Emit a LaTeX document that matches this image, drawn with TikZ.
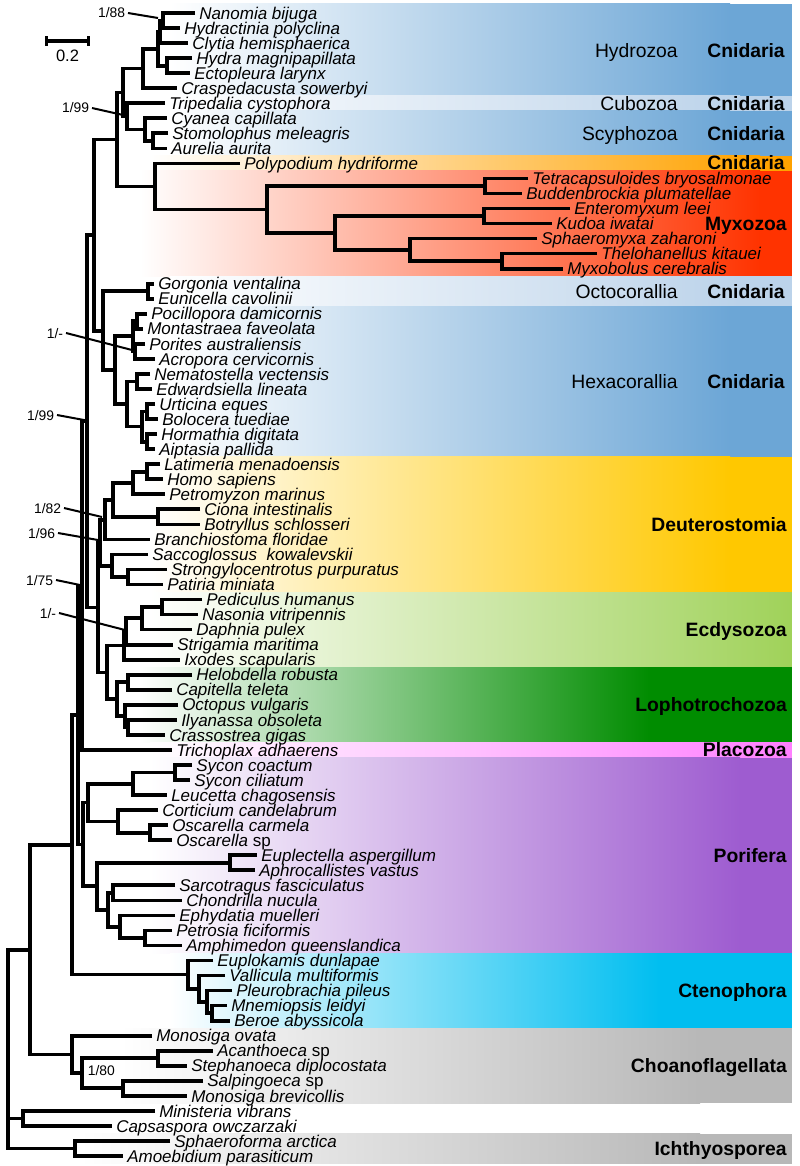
\documentclass[tikz,border=0pt]{standalone}
\usepackage{fontspec}
\setmainfont{Liberation Sans}
\usetikzlibrary{arrows.meta,calc}
\definecolor{HydroBlue}{HTML}{6CA6D6}
\definecolor{CuboBlue}{HTML}{BCD3EA}
\definecolor{PolypOrange}{HTML}{FFA200}
\definecolor{MyxoRed}{HTML}{FF3300}
\definecolor{DeutYellow}{HTML}{FFC800}
\definecolor{EcdyGreen}{HTML}{A0D25A}
\definecolor{LophoGreen}{HTML}{008C00}
\definecolor{PlacoPink}{HTML}{FF80FF}
\definecolor{PoriPurple}{HTML}{9E5CD0}
\definecolor{CtenoCyan}{HTML}{00BEF0}
\definecolor{ChoanoGrey}{HTML}{B8B8B8}
% clade: name, x of the node, upper child, lower child
\newcommand{\clade}[4]{%
    \coordinate (tmpmid) at ($(#3)!0.5!(#4)$);
    \coordinate (tmpx) at (#2,0);
    \coordinate (#1) at (tmpmid -| tmpx);
    \draw[branch] (#3) -| (#1) |- (#4);
}
% band: top, bottom, start of fade, end of fade, colour
\newcommand{\band}[5]{%
    \fill[left color=white, right color=#5] (#3,#1) rectangle (#4,#2);
    \fill[#5] ({#4-0.5},#1) rectangle (792,#2);
}

\begin{document}
\begin{tikzpicture}[
        x=0.75pt, y=-0.75pt,
        branch/.style={line width=2.8pt},
        pointer/.style={line width=1.5pt},
        scalebar/.style={line width=2.6pt, {Bar[width=7pt]}-{Bar[width=7pt]}},
        taxon/.style={
            anchor=west,
            inner xsep=3pt,
            inner ysep=0pt,
            text height=9.2pt,
            text depth=0pt,
            font=\fontsize{12.75}{14}\selectfont\itshape
        },
        support/.style={
            inner xsep=2pt,
            inner ysep=0pt,
            text height=7.5pt,
            text depth=0pt,
            font=\fontsize{10.4}{12}\selectfont
        },
        group/.style={
            anchor=east,
            inner sep=0pt,
            text height=10.4pt,
            text depth=0pt,
            font=\fontsize{14.5}{16}\selectfont\bfseries
        },
        subgroup/.style={group, font=\fontsize{14.5}{16}\selectfont}
    ]
        \useasboundingbox (0,0) rectangle (799,1166);

        % coloured bands
        \band{4}{95.7}{170}{730}{HydroBlue}
        \band{95.7}{110.8}{170}{740}{CuboBlue}
        \band{110.8}{155.9}{170}{730}{HydroBlue}
        \band{155.9}{170.9}{150}{760}{PolypOrange}
        \band{170.9}{276.2}{140}{760}{MyxoRed}
        \band{276.2}{306.3}{170}{740}{CuboBlue}
        \band{306.3}{456.7}{170}{730}{HydroBlue}
        \band{456.7}{592.0}{150}{730}{DeutYellow}
        \band{592.0}{667.2}{150}{790}{EcdyGreen}
        \band{667.2}{742.4}{140}{650}{LophoGreen}
        \band{742.4}{757.5}{150}{790}{PlacoPink}
        \band{757.5}{953.0}{150}{740}{PoriPurple}
        \band{953.0}{1028.2}{170}{660}{CtenoCyan}
        \band{1028.2}{1103.4}{120}{700}{ChoanoGrey}
        \band{1133.5}{1163.5}{80}{700}{ChoanoGrey}

        % taxa
        \node[taxon] (nanomia) at (195,13.0) {Nanomia bijuga};
        \node[taxon] (hydractinia) at (180,28.0) {Hydractinia polyclina};
        \node[taxon] (clytia) at (188,43.1) {Clytia hemisphaerica};
        \node[taxon] (hydra) at (192,58.1) {Hydra magnipapillata};
        \node[taxon] (ectopleura) at (190,73.2) {Ectopleura larynx};
        \node[taxon] (craspedacusta) at (177,88.2) {Craspedacusta sowerbyi};
        \node[taxon] (tripedalia) at (165,103.2) {Tripedalia cystophora};
        \node[taxon] (cyanea) at (167,118.3) {Cyanea capillata};
        \node[taxon] (stomolophus) at (168,133.3) {Stomolophus meleagris};
        \node[taxon] (aurelia) at (167,148.4) {Aurelia aurita};
        \node[taxon] (polypodium) at (240,163.4) {Polypodium hydriforme};
        \node[taxon] (tetracapsuloides) at (528,178.4) {Tetracapsuloides bryosalmonae};
        \node[taxon] (buddenbrockia) at (522,193.5) {Buddenbrockia plumatellae};
        \node[taxon] (enteromyxum) at (570,208.5) {Enteromyxum leei};
        \node[taxon] (kudoa) at (552,223.6) {Kudoa iwatai};
        \node[taxon] (sphaeromyxa) at (537,238.6) {Sphaeromyxa zaharoni};
        \node[taxon] (thelohanellus) at (597,253.6) {Thelohanellus kitauei};
        \node[taxon] (myxobolus) at (563,268.7) {Myxobolus cerebralis};
        \node[taxon] (gorgonia) at (154,283.7) {Gorgonia ventalina};
        \node[taxon] (eunicella) at (154,298.8) {Eunicella cavolinii};
        \node[taxon] (pocillopora) at (147,313.8) {Pocillopora damicornis};
        \node[taxon] (montastraea) at (143,328.8) {Montastraea faveolata};
        \node[taxon] (porites) at (145,343.9) {Porites australiensis};
        \node[taxon] (acropora) at (155,358.9) {Acropora cervicornis};
        \node[taxon] (nematostella) at (150,374.0) {Nematostella vectensis};
        \node[taxon] (edwardsiella) at (152,389.0) {Edwardsiella lineata};
        \node[taxon] (urticina) at (155,404.0) {Urticina eques};
        \node[taxon] (bolocera) at (158,419.1) {Bolocera tuediae};
        \node[taxon] (hormathia) at (157,434.1) {Hormathia digitata};
        \node[taxon] (aiptasia) at (155,449.2) {Aiptasia pallida};
        \node[taxon] (latimeria) at (160,464.2) {Latimeria menadoensis};
        \node[taxon] (homosapiens) at (163,479.2) {Homo sapiens};
        \node[taxon] (petromyzon) at (165,494.3) {Petromyzon marinus};
        \node[taxon] (ciona) at (200,509.3) {Ciona intestinalis};
        \node[taxon] (botryllus) at (200,524.4) {Botryllus schlosseri};
        \node[taxon] (branchiostoma) at (150,539.4) {Branchiostoma floridae};
        \node[taxon] (saccoglossus) at (148,554.4) {Saccoglossus\ \ kowalevskii};
        \node[taxon] (strongylocentrotus) at (167,569.5) {Strongylocentrotus purpuratus};
        \node[taxon] (patiria) at (163,584.5) {Patiria miniata};
        \node[taxon] (pediculus) at (202,599.6) {Pediculus humanus};
        \node[taxon] (nasonia) at (198,614.6) {Nasonia vitripennis};
        \node[taxon] (daphnia) at (192,629.6) {Daphnia pulex};
        \node[taxon] (strigamia) at (173,644.7) {Strigamia maritima};
        \node[taxon] (ixodes) at (180,659.7) {Ixodes scapularis};
        \node[taxon] (helobdella) at (192,674.8) {Helobdella robusta};
        \node[taxon] (capitella) at (172,689.8) {Capitella teleta};
        \node[taxon] (octopus) at (178,704.8) {Octopus vulgaris};
        \node[taxon] (ilyanassa) at (177,719.9) {Ilyanassa obsoleta};
        \node[taxon] (crassostrea) at (165,734.9) {Crassostrea gigas};
        \node[taxon] (trichoplax) at (172,750.0) {Trichoplax adhaerens};
        \node[taxon] (syconcoactum) at (192,765.0) {Sycon coactum};
        \node[taxon] (syconciliatum) at (190,780.0) {Sycon ciliatum};
        \node[taxon] (leucetta) at (167,795.1) {Leucetta chagosensis};
        \node[taxon] (corticium) at (158,810.1) {Corticium candelabrum};
        \node[taxon] (oscarellacarmela) at (168,825.2) {Oscarella carmela};
        \node[taxon] (oscarellasp) at (172,840.2) {Oscarella {\upshape sp}};
        \node[taxon] (euplectella) at (257,855.2) {Euplectella aspergillum};
        \node[taxon] (aphrocallistes) at (255,870.3) {Aphrocallistes vastus};
        \node[taxon] (sarcotragus) at (175,885.3) {Sarcotragus fasciculatus};
        \node[taxon] (chondrilla) at (182,900.4) {Chondrilla nucula};
        \node[taxon] (ephydatia) at (175,915.4) {Ephydatia muelleri};
        \node[taxon] (petrosia) at (172,930.4) {Petrosia ficiformis};
        \node[taxon] (amphimedon) at (182,945.5) {Amphimedon queenslandica};
        \node[taxon] (euplokamis) at (213,960.5) {Euplokamis dunlapae};
        \node[taxon] (vallicula) at (225,975.6) {Vallicula multiformis};
        \node[taxon] (pleurobrachia) at (232,990.6) {Pleurobrachia pileus};
        \node[taxon] (mnemiopsis) at (227,1005.6) {Mnemiopsis leidyi};
        \node[taxon] (beroe) at (230,1020.7) {Beroe abyssicola};
        \node[taxon] (monosigaovata) at (152,1035.7) {Monosiga ovata};
        \node[taxon] (acanthoeca) at (213,1050.8) {Acanthoeca {\upshape sp}};
        \node[taxon] (stephanoeca) at (187,1065.8) {Stephanoeca diplocostata};
        \node[taxon] (salpingoeca) at (203,1080.8) {Salpingoeca {\upshape sp}};
        \node[taxon] (monosigabrev) at (187,1095.9) {Monosiga brevicollis};
        \node[taxon] (ministeria) at (155,1110.9) {Ministeria vibrans};
        \node[taxon] (capsaspora) at (112,1126.0) {Capsaspora owczarzaki};
        \node[taxon] (sphaeroforma) at (170,1141.0) {Sphaeroforma arctica};
        \node[taxon] (amoebidium) at (123,1156.0) {Amoebidium parasiticum};

        % Cnidaria
        \clade{hyA}{163}{nanomia.west}{hydractinia.west}
        \clade{hyB}{160}{hyA}{clytia.west}
        \clade{hyHE}{167}{hydra.west}{ectopleura.west}
        \clade{hyC}{158}{hyB}{hyHE}
        \clade{hydrozoa}{143}{hyC}{craspedacusta.west}
        \clade{scSA}{153}{stomolophus.west}{aurelia.west}
        \clade{scyphozoa}{145}{cyanea.west}{scSA}
        \clade{cuSc}{127}{tripedalia.west}{scyphozoa}
        \clade{medusa}{123}{hydrozoa}{cuSc}
        \clade{myTB}{485}{tetracapsuloides.west}{buddenbrockia.west}
        \clade{myEK}{484}{enteromyxum.west}{kudoa.west}
        \clade{myTM}{502}{thelohanellus.west}{myxobolus.west}
        \clade{mySTM}{410}{sphaeromyxa.west}{myTM}
        \clade{myES}{335}{myEK}{mySTM}
        \clade{myxozoa}{267}{myTB}{myES}
        \clade{endocnid}{155}{polypodium.west}{myxozoa}
        \clade{medusozoa}{117}{medusa}{endocnid}
        \clade{octocoral}{148}{gorgonia.west}{eunicella.west}
        \clade{slPM}{137}{pocillopora.west}{montastraea.west}
        \clade{slPA}{135}{porites.west}{acropora.west}
        \clade{scleract}{133}{slPM}{slPA}
        \clade{acNE}{137}{nematostella.west}{edwardsiella.west}
        \clade{acUB}{147}{urticina.west}{bolocera.west}
        \clade{acHA}{147}{hormathia.west}{aiptasia.west}
        \clade{acUH}{142}{acUB}{acHA}
        \clade{actiniaria}{127}{acNE}{acUH}
        \clade{hexacoral}{115}{scleract}{actiniaria}
        \clade{anthozoa}{103}{octocoral}{hexacoral}
        \clade{cnidaria}{94}{medusozoa}{anthozoa}

        % Bilateria
        \clade{vtLH}{147}{latimeria.west}{homosapiens.west}
        \clade{vertebrata}{133}{vtLH}{petromyzon.west}
        \clade{tunicata}{158}{ciona.west}{botryllus.west}
        \clade{olfactores}{113}{vertebrata}{tunicata}
        \clade{chordata}{105}{olfactores}{branchiostoma.west}
        \clade{echino}{128}{strongylocentrotus.west}{patiria.west}
        \clade{ambulacraria}{112}{saccoglossus.west}{echino}
        \clade{deutero}{100}{chordata}{ambulacraria}
        \clade{insecta}{162}{pediculus.west}{nasonia.west}
        \clade{pancrust}{142}{insecta}{daphnia.west}
        \clade{mandib}{126}{pancrust}{strigamia.west}
        \clade{ecdyso}{124}{mandib}{ixodes.west}
        \clade{annelida}{128}{helobdella.west}{capitella.west}
        \clade{mlIC}{128}{ilyanassa.west}{crassostrea.west}
        \clade{mollusca}{125}{octopus.west}{mlIC}
        \clade{lophotroch}{117}{annelida}{mollusca}
        \clade{protostomia}{107}{ecdyso}{lophotroch}
        \clade{bilateria}{98}{deutero}{protostomia}
        \clade{planulozoa}{87}{cnidaria}{bilateria}
        \clade{parahox}{82}{planulozoa}{trichoplax.west}

        % Porifera
        \clade{sycon}{175}{syconcoactum.west}{syconciliatum.west}
        \clade{calcarea}{133}{sycon}{leucetta.west}
        \clade{oscarella}{150}{oscarellacarmela.west}{oscarellasp.west}
        \clade{homoscl}{118}{corticium.west}{oscarella}
        \clade{calhomo}{88}{calcarea}{homoscl}
        \clade{hexactin}{230}{euplectella.west}{aphrocallistes.west}
        \clade{dmSC}{113}{sarcotragus.west}{chondrilla.west}
        \clade{dmPA}{145}{petrosia.west}{amphimedon.west}
        \clade{dmEPA}{120}{ephydatia.west}{dmPA}
        \clade{demosp}{108}{dmSC}{dmEPA}
        \clade{siliceous}{97}{hexactin}{demosp}
        \clade{porifera}{83}{calhomo}{siliceous}
        \clade{benthozoa}{78}{parahox}{porifera}

        % Ctenophora and outgroups
        \clade{ctMB}{212}{mnemiopsis.west}{beroe.west}
        \clade{ctPMB}{207}{pleurobrachia.west}{ctMB}
        \clade{ctVPMB}{199}{vallicula.west}{ctPMB}
        \clade{ctenophora}{188}{euplokamis.west}{ctVPMB}
        \clade{metazoa}{72}{benthozoa}{ctenophora}
        \clade{chAS}{158}{acanthoeca.west}{stephanoeca.west}
        \clade{chSM}{123}{salpingoeca.west}{monosigabrev.west}
        \clade{chASM}{82}{chAS}{chSM}
        \clade{choano}{72}{monosigaovata.west}{chASM}
        \clade{choanozoa}{30}{metazoa}{choano}
        \clade{filasterea}{23}{ministeria.west}{capsaspora.west}
        \clade{ichthyo}{75}{sphaeroforma.west}{amoebidium.west}
        \clade{root}{8}{choanozoa}{ichthyo}
        \draw[branch] (filasterea) -- (filasterea -| root);

        % support values
        \node[support, anchor=east] (s88) at (128,13) {1/88};
        \node[support, anchor=east] (s99a) at (92,108) {1/99};
        \node[support, anchor=east] (s1a) at (66,333) {1/-};
        \node[support, anchor=east] (s99b) at (57,415) {1/99};
        \node[support, anchor=east] (s82) at (64,508) {1/82};
        \node[support, anchor=east] (s96) at (58,533) {1/96};
        \node[support, anchor=east] (s75) at (56,580) {1/75};
        \node[support, anchor=east] (s1b) at (59,613) {1/-};
        \node[support, anchor=west] (s80) at (85,1070) {1/80};
        \coordinate (p88) at (158,18);
        \coordinate (p99a) at (123,115);
        \coordinate (p1a) at (132,350);
        \coordinate (p99b) at (84,420);
        \coordinate (p82) at (102,517);
        \coordinate (p96) at (98,540);
        \coordinate (p75) at (80,585);
        \coordinate (p1b) at (125,630);
        \draw[pointer] (s88.east) -- (p88);
        \draw[pointer] (s99a.east) -- (p99a);
        \draw[pointer] (s1a.east) -- (p1a);
        \draw[pointer] (s99b.east) -- (p99b);
        \draw[pointer] (s82.east) -- (p82);
        \draw[pointer] (s96.east) -- (p96);
        \draw[pointer] (s75.east) -- (p75);
        \draw[pointer] (s1b.east) -- (p1b);

        % scale bar
        \coordinate (sbleft) at (45,41);
        \coordinate (sbright) at (90,41);
        \draw[scalebar] (sbleft) -- (sbright);
        \node[support, font=\fontsize{12.4}{14}\selectfont, text height=8.9pt] (sblabel) at (67.5,56) {0.2};

        % group labels
        \node[subgroup] (lbhydrozoa) at (678,50.6) {Hydrozoa};
        \node[group] (lbcnid1) at (785,50.6) {Cnidaria};
        \node[subgroup] (lbcubozoa) at (678,103.2) {Cubozoa};
        \node[group] (lbcnid2) at (785,103.2) {Cnidaria};
        \node[subgroup] (lbscyphozoa) at (678,133.3) {Scyphozoa};
        \node[group] (lbcnid3) at (785,133.3) {Cnidaria};
        \node[group] (lbcnid4) at (785,162.6) {Cnidaria};
        \node[group] (lbmyxozoa) at (787,223.6) {Myxozoa};
        \node[subgroup] (lboctocoral) at (678,291.2) {Octocorallia};
        \node[group] (lbcnid5) at (785,291.2) {Cnidaria};
        \node[subgroup] (lbhexacoral) at (678,381.5) {Hexacorallia};
        \node[group] (lbcnid6) at (785,381.5) {Cnidaria};
        \node[group] (lbdeutero) at (787,524.4) {Deuterostomia};
        \node[group] (lbecdyso) at (787,629.6) {Ecdysozoa};
        \node[group] (lblophotroch) at (787,704.8) {Lophotrochozoa};
        \node[group] (lbplacozoa) at (787,750.0) {Placozoa};
        \node[group] (lbporifera) at (787,855.2) {Porifera};
        \node[group] (lbctenophora) at (787,990.6) {Ctenophora};
        \node[group] (lbchoano) at (787,1065.8) {Choanoflagellata};
        \node[group] (lbichthyo) at (787,1148.5) {Ichthyosporea};
    \end{tikzpicture}
\end{document}
